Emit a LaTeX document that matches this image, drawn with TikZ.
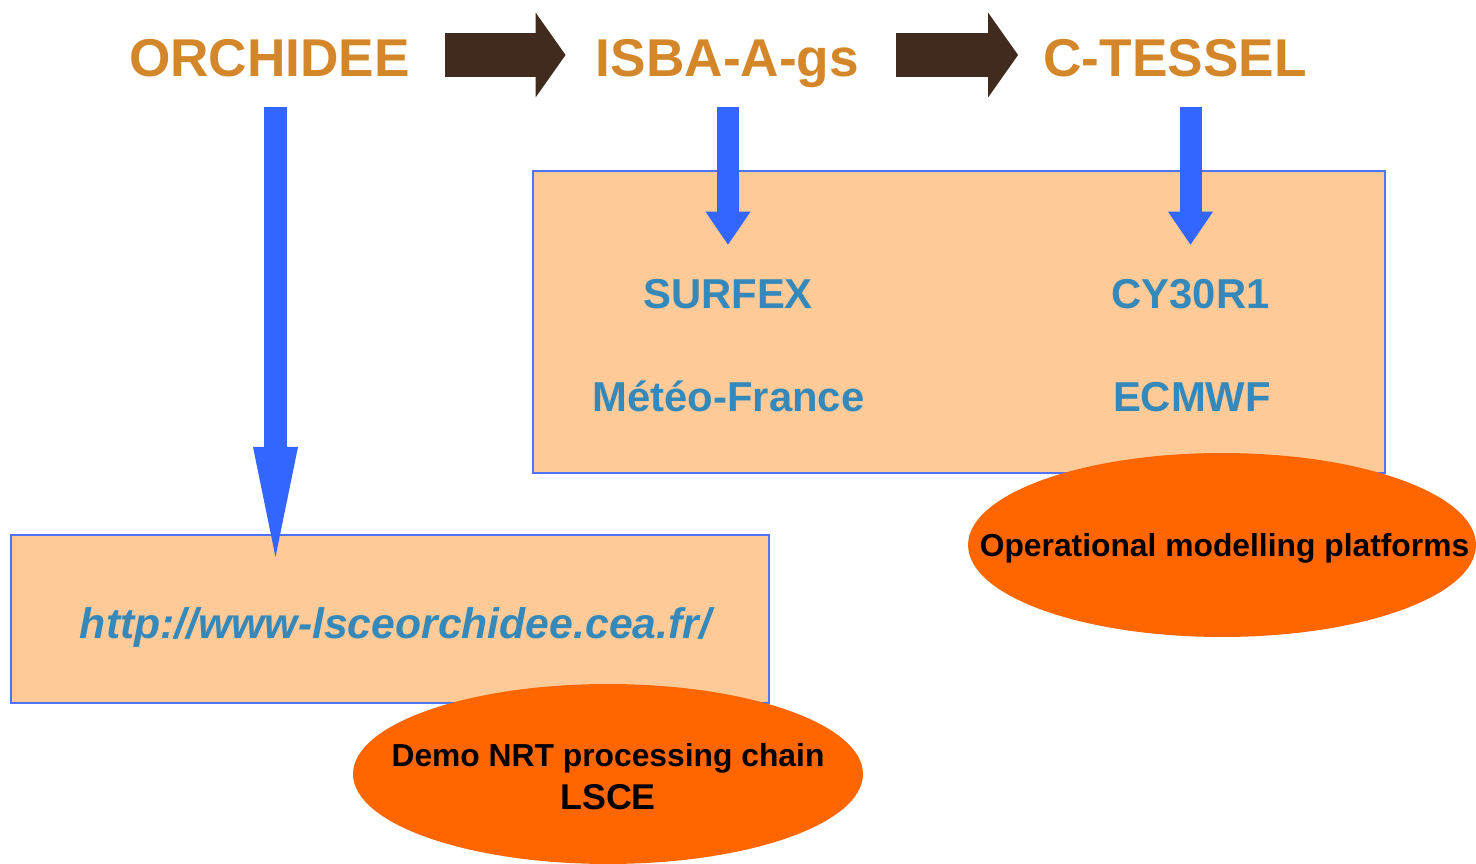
\documentclass[tikz,border=0pt]{standalone}
\usepackage{fontspec}
\setmainfont{Liberation Sans}
\usetikzlibrary{arrows.meta,shapes.geometric,calc}

\definecolor{titleorange}{RGB}{212,135,42}
\definecolor{textblue}{RGB}{52,137,186}
\definecolor{peach}{RGB}{253,202,152}
\definecolor{boxblue}{RGB}{80,115,255}
\definecolor{arrowblue}{RGB}{51,102,255}
\definecolor{bubbleorange}{RGB}{255,102,0}
\definecolor{woodbrown}{RGB}{64,43,30}

\tikzstyle{title} = [text=titleorange, font=\bfseries\fontsize{30.3}{36}\selectfont,
  inner sep=0, text height=0.88cm, text depth=0cm]
\tikzstyle{brownarrow} = [draw=woodbrown, line width=0.88cm,
  -{Triangle[width=1.7cm, length=0.6cm, line width=0pt]}]
\tikzstyle{bluearrow} = [draw=arrowblue, line width=0.44cm,
  -{Triangle[width=0.9cm, length=0.66cm, line width=0pt]}]
\tikzstyle{infobox} = [draw=boxblue, fill=peach, line width=1.2pt, rectangle,
  inner sep=0]
\tikzstyle{infotext} = [text=textblue, font=\bfseries\fontsize{23.8}{28}\selectfont,
  inner sep=0, text height=0.6cm, text depth=0cm]
\tikzstyle{bubble} = [fill=bubbleorange, ellipse, inner sep=0]
\tikzstyle{bubbletext} = [font=\bfseries\fontsize{18.1}{24.4}\selectfont,
  align=center, inner sep=0]

\begin{document}
\begin{tikzpicture}[x=0.02cm, y=-0.02cm]
        \useasboundingbox (0,0) rectangle (1476,864);

        % model names
        \node [title] (orchidee) at ( 269.5,55) {ORCHIDEE};
        \node [title] (isba)     at ( 727.5,55) {ISBA-A-gs};
        \node [title] (ctessel)  at (1175,  55) {C-TESSEL};

        % boxes
        \node [infobox, minimum width=17.04cm, minimum height=6.04cm] (platbox) at (959,322) {};
        \node [infobox, minimum width=15.16cm, minimum height=3.36cm] (webbox)  at (390,619) {};

        \node [infotext] (surfex) at ( 728,  294) {SURFEX};
        \node [infotext] (cy)     at (1190.5,294) {CY30R1};
        \node [infotext] (meteo)  at ( 728.5,397) {Météo-France};
        \node [infotext] (ecmwf)  at (1192,  397) {ECMWF};
        \node [infotext, font=\bfseries\itshape\fontsize{24.3}{28}\selectfont] (url) at (395.5,623)
          {http://www-lsceorchidee.cea.fr/};

        \draw [brownarrow, shorten <=0.7cm,  shorten >=0.6cm] (orchidee.east) -- (isba.west);
        \draw [brownarrow, shorten <=0.74cm, shorten >=0.5cm] (isba.east) -- (ctessel.west);

        \draw [bluearrow, shorten <=0.6cm, shorten >=0.68cm] (surfex.north |- isba.south) -- (surfex.north);
        \draw [bluearrow, shorten <=0.6cm, shorten >=0.68cm] (cy.north |- ctessel.south) -- (cy.north);
        \draw [bluearrow, line width=0.46cm, -{Triangle[width=0.9cm, length=2.2cm, line width=0pt]}]
          ($(orchidee.south)+(6,30)$) -- ($(orchidee.south |- webbox.north)+(6,23)$);

        % ellipses
        \node [bubble, minimum width=10.16cm, minimum height=3.68cm,
          label={[bubbletext, text depth=0cm, xshift=0.05cm]center:Operational modelling platforms}] (opbubble) at (1222,545) {};
        \node [bubble, minimum width=10.2cm, minimum height=3.6cm,
          label={[bubbletext, yshift=-0.06cm]center:Demo NRT processing chain\\{\fontsize{20.4}{24.4}\selectfont LSCE}}] (lscebubble) at (608,774) {};
      \end{tikzpicture}
\end{document}
